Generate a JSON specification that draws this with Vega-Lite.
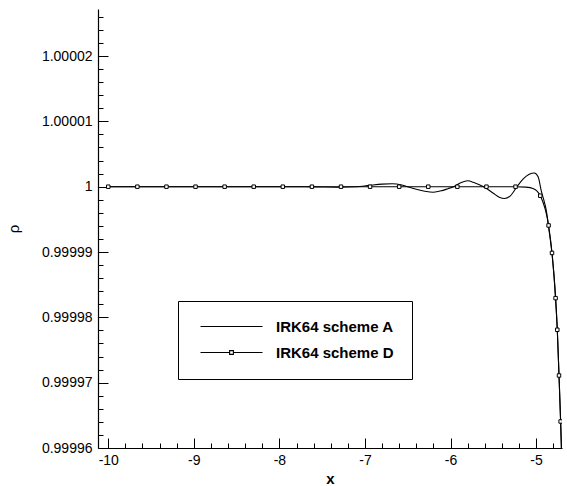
{
  "$schema": "https://vega.github.io/schema/vega-lite/v6.json",
  "width": 464,
  "height": 439,
  "autosize": {"type": "none"},
  "padding": {"left": 98, "top": 9, "right": 5, "bottom": 38},
  "background": "white",
  "config": {
    "view": {"stroke": null},
    "font": "Liberation Sans",
    "axis": {"grid": false, "domainColor": "black", "domainWidth": 1.2, "tickColor": "black", "tickWidth": 1, "labelColor": "black", "titleColor": "black", "labelFont": "Liberation Sans", "titleFont": "Liberation Sans", "labelOverlap": false, "labelBound": false, "labelFlush": false}
  },
  "datasets": {
    "curves": [
      {"s": "IRK64 scheme A", "x": -10, "r": 1},
      {"s": "IRK64 scheme A", "x": -9, "r": 1},
      {"s": "IRK64 scheme A", "x": -8, "r": 1},
      {"s": "IRK64 scheme A", "x": -7.7, "r": 1},
      {"s": "IRK64 scheme A", "x": -7.5, "r": 0.99999995},
      {"s": "IRK64 scheme A", "x": -7.3, "r": 0.99999992},
      {"s": "IRK64 scheme A", "x": -7.1, "r": 0.99999998},
      {"s": "IRK64 scheme A", "x": -6.95, "r": 1.0000002},
      {"s": "IRK64 scheme A", "x": -6.8, "r": 1.0000004},
      {"s": "IRK64 scheme A", "x": -6.68, "r": 1.00000045},
      {"s": "IRK64 scheme A", "x": -6.58, "r": 1.0000003},
      {"s": "IRK64 scheme A", "x": -6.5, "r": 0.99999998},
      {"s": "IRK64 scheme A", "x": -6.4, "r": 0.9999996},
      {"s": "IRK64 scheme A", "x": -6.3, "r": 0.9999993},
      {"s": "IRK64 scheme A", "x": -6.2, "r": 0.99999915},
      {"s": "IRK64 scheme A", "x": -6.1, "r": 0.9999994},
      {"s": "IRK64 scheme A", "x": -6.03, "r": 0.9999997},
      {"s": "IRK64 scheme A", "x": -5.965, "r": 1},
      {"s": "IRK64 scheme A", "x": -5.88, "r": 1.0000006},
      {"s": "IRK64 scheme A", "x": -5.8, "r": 1.0000009},
      {"s": "IRK64 scheme A", "x": -5.72, "r": 1.0000006},
      {"s": "IRK64 scheme A", "x": -5.614, "r": 1},
      {"s": "IRK64 scheme A", "x": -5.5, "r": 0.999999},
      {"s": "IRK64 scheme A", "x": -5.43, "r": 0.9999984},
      {"s": "IRK64 scheme A", "x": -5.37, "r": 0.9999982},
      {"s": "IRK64 scheme A", "x": -5.3, "r": 0.9999986},
      {"s": "IRK64 scheme A", "x": -5.223, "r": 1},
      {"s": "IRK64 scheme A", "x": -5.15, "r": 1.0000012},
      {"s": "IRK64 scheme A", "x": -5.08, "r": 1.0000019},
      {"s": "IRK64 scheme A", "x": -5.02, "r": 1.0000021},
      {"s": "IRK64 scheme A", "x": -4.975, "r": 1.0000015},
      {"s": "IRK64 scheme A", "x": -4.94, "r": 0.9999994},
      {"s": "IRK64 scheme A", "x": -4.9, "r": 0.9999975},
      {"s": "IRK64 scheme A", "x": -4.88, "r": 0.9999963},
      {"s": "IRK64 scheme A", "x": -4.845, "r": 0.999993},
      {"s": "IRK64 scheme A", "x": -4.814, "r": 0.99998986},
      {"s": "IRK64 scheme A", "x": -4.772, "r": 0.99998294},
      {"s": "IRK64 scheme A", "x": -4.752, "r": 0.9999781},
      {"s": "IRK64 scheme A", "x": -4.732, "r": 0.9999711},
      {"s": "IRK64 scheme A", "x": -4.713, "r": 0.99996406},
      {"s": "IRK64 scheme A", "x": -4.697, "r": 0.999957},
      {"s": "IRK64 scheme D", "x": -10, "r": 1, "m": true},
      {"s": "IRK64 scheme D", "x": -9.66, "r": 1, "m": true},
      {"s": "IRK64 scheme D", "x": -9.32, "r": 1, "m": true},
      {"s": "IRK64 scheme D", "x": -8.98, "r": 1, "m": true},
      {"s": "IRK64 scheme D", "x": -8.64, "r": 1, "m": true},
      {"s": "IRK64 scheme D", "x": -8.3, "r": 1, "m": true},
      {"s": "IRK64 scheme D", "x": -7.96, "r": 1, "m": true},
      {"s": "IRK64 scheme D", "x": -7.62, "r": 1, "m": true},
      {"s": "IRK64 scheme D", "x": -7.28, "r": 1, "m": true},
      {"s": "IRK64 scheme D", "x": -6.94, "r": 1, "m": true},
      {"s": "IRK64 scheme D", "x": -6.6, "r": 1, "m": true},
      {"s": "IRK64 scheme D", "x": -6.26, "r": 1, "m": true},
      {"s": "IRK64 scheme D", "x": -5.92, "r": 1, "m": true},
      {"s": "IRK64 scheme D", "x": -5.58, "r": 1, "m": true},
      {"s": "IRK64 scheme D", "x": -5.24, "r": 1, "m": true},
      {"s": "IRK64 scheme D", "x": -5.12, "r": 0.99999993, "m": false},
      {"s": "IRK64 scheme D", "x": -5.03, "r": 0.9999997, "m": false},
      {"s": "IRK64 scheme D", "x": -4.951, "r": 0.99999862, "m": true},
      {"s": "IRK64 scheme D", "x": -4.854, "r": 0.99999407, "m": true},
      {"s": "IRK64 scheme D", "x": -4.814, "r": 0.99998986, "m": true},
      {"s": "IRK64 scheme D", "x": -4.772, "r": 0.99998294, "m": true},
      {"s": "IRK64 scheme D", "x": -4.752, "r": 0.9999781, "m": true},
      {"s": "IRK64 scheme D", "x": -4.732, "r": 0.9999711, "m": true},
      {"s": "IRK64 scheme D", "x": -4.713, "r": 0.99996406, "m": true},
      {"s": "IRK64 scheme D", "x": -4.697, "r": 0.999957, "m": false}
    ]
  },
  "data": {"name": "curves"},
  "layer": [
    {
      "mark": {"type": "line", "strokeWidth": 1.1, "clip": true, "interpolate": "monotone"},
      "encoding": {
        "x": {
          "field": "x", "type": "quantitative",
          "scale": {"domain": [-10.12, -4.697], "nice": false, "zero": false},
          "axis": {
            "orient": "bottom",
            "tickCount": 200,
            "values": [-10, -9.8, -9.6, -9.4, -9.2, -9, -8.8, -8.6, -8.4, -8.2, -8, -7.8, -7.6, -7.4, -7.2, -7, -6.8, -6.6, -6.4, -6.2, -6, -5.8, -5.6, -5.4, -5.2, -5, -4.8],
            "tickSize": {"condition": {"test": "datum.value % 1 === 0", "value": -10}, "value": -5},
            "labelPadding": 15.5, "labelFontSize": 14,
            "labelExpr": "datum.value % 1 === 0 ? '' + datum.value : ''",
            "title": "x", "titleFontSize": 15, "titleFontWeight": "bold", "titleBaseline": "bottom", "titleY": 38
          }
        },
        "y": {
          "field": "r", "type": "quantitative",
          "scale": {"domain": [0.99996, 1.0000272], "nice": false, "zero": false},
          "axis": {
            "orient": "left",
            "tickCount": 200,
            "values": [0.99996, 0.999962, 0.999964, 0.999966, 0.999968, 0.99997, 0.999972, 0.999974, 0.999976, 0.999978, 0.99998, 0.999982, 0.999984, 0.999986, 0.999988, 0.99999, 0.999992, 0.999994, 0.999996, 0.999998, 1, 1.000002, 1.000004, 1.000006, 1.000008, 1.00001, 1.000012, 1.000014, 1.000016, 1.000018, 1.00002, 1.000022, 1.000024, 1.000026],
            "tickSize": {"condition": {"test": "abs(datum.value * 100000 - round(datum.value * 100000)) < 0.01", "value": -10}, "value": -5},
            "labelPadding": 16, "labelFontSize": 14,
            "labelExpr": "abs(datum.value * 100000 - round(datum.value * 100000)) < 0.01 ? '' + datum.value : ''",
            "title": "ρ", "titleFontSize": 15, "titleFontWeight": "normal", "titlePadding": 20
          }
        },
        "color": {
          "field": "s", "type": "nominal",
          "scale": {"domain": ["IRK64 scheme A", "IRK64 scheme D"], "range": ["black", "black"]},
          "legend": {
            "title": null, "orient": "none", "legendX": 80, "legendY": 292,
            "strokeColor": "black", "fillColor": "white", "padding": 18,
            "labelFontSize": 15, "labelFontWeight": "bold", "labelFont": "Liberation Sans", "labelColor": "black",
            "symbolSize": 100, "symbolStrokeWidth": 1.1, "symbolType": "M-6.2,0H6.2", "symbolOffset": 28, "labelOffset": 37,
            "rowPadding": 10,
            "encode": {
              "symbols": {"update": {"shape": {"signal": "datum.value === 'IRK64 scheme D' ? 'M-6.2,0H-0.38M0.38,0H6.2M-0.38,-0.38H0.38V0.38H-0.38Z' : 'M-6.2,0H6.2'"}, "fill": {"value": "white"}, "stroke": {"value": "black"}}}
            }
          }
        }
      }
    },
    {
      "transform": [{"filter": "datum.m === true"}],
      "mark": {"type": "point", "shape": "square", "filled": true, "fill": "white", "stroke": "black", "strokeWidth": 1, "size": 12, "opacity": 1, "clip": true},
      "encoding": {
        "x": {"field": "x", "type": "quantitative"},
        "y": {"field": "r", "type": "quantitative"}
      }
    }
  ]
}
